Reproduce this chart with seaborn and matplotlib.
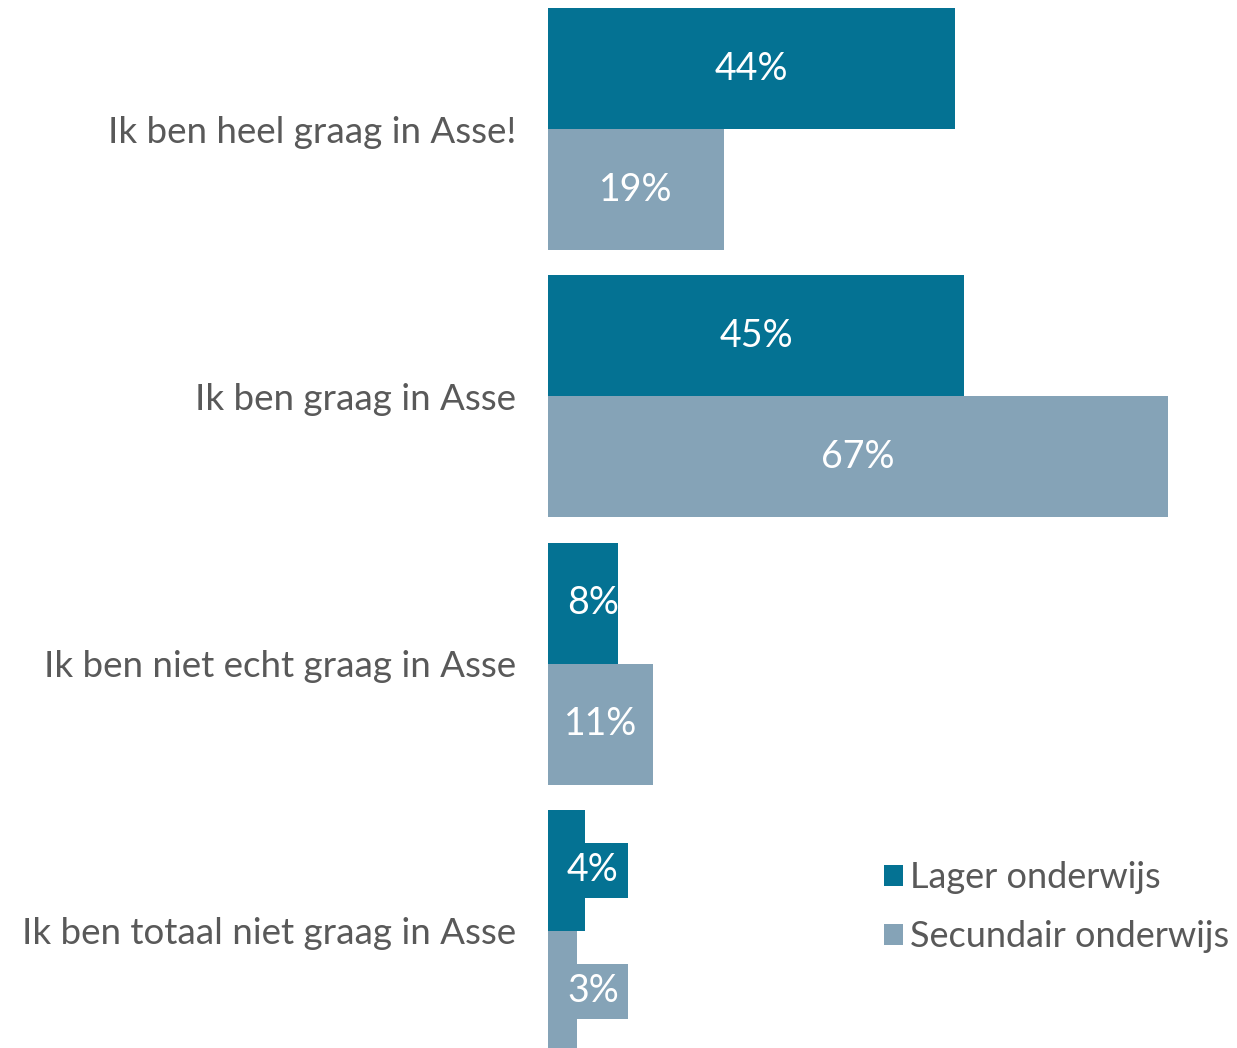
import matplotlib
matplotlib.use("Agg")
import matplotlib.pyplot as plt
import seaborn as sns
import pandas as pd
from matplotlib.patches import Patch

categories = ["Ik ben heel graag in Asse!", "Ik ben graag in Asse",
              "Ik ben niet echt graag in Asse", "Ik ben totaal niet graag in Asse"]
lager = [44, 45, 7.6, 4]
secundair = [19, 67, 11.4, 3.1]
lager_labels = ["44%", "45%", "8%", "4%"]
secundair_labels = ["19%", "67%", "11%", "3%"]
series = ["Lager onderwijs", "Secundair onderwijs"]
colors = ["#047293", "#85A3B7"]

sns.set_theme(style="white")
plt.rcParams['font.family'] = ['Lato', 'DejaVu Sans']

df = pd.DataFrame({
    "cat": categories * 2,
    "val": lager + secundair,
    "serie": [series[0]] * 4 + [series[1]] * 4,
})

fig = plt.figure(figsize=(12.37, 10.48), dpi=100)
ax = fig.add_axes([548 / 1237, 0, 1 - 548 / 1237, 1])
sns.barplot(data=df, y="cat", x="val", hue="serie", order=categories,
            hue_order=series, palette=colors, orient="h", width=0.906,
            saturation=1, ax=ax, legend=False, linewidth=0)

ax.set_xlim(0, 74.5)
ax.set_ylim(3.438, -0.483)
ax.set_xlabel("")
ax.set_ylabel("")
ax.set_xticks([])
for s in ax.spines.values():
    s.set_visible(False)
ax.tick_params(axis="y", length=0, pad=23, labelsize=26.5, labelcolor="#595959")

bw = 0.906 / 2
for i in range(len(categories)):
    for j, (vals, labs) in enumerate([(lager, lager_labels), (secundair, secundair_labels)]):
        v = vals[i]
        y = i - bw / 2 + j * bw
        x = max(v / 2, 4.85)
        kw = {}
        if v < 6:
            kw["bbox"] = dict(boxstyle="square,pad=0.25", fc=colors[j], ec="none")
        ax.text(x, y, labs[i], ha="center", va="center", color="white",
                fontsize=27, **kw)

handles = [Patch(facecolor=c, edgecolor="none", label=s) for c, s in zip(colors, series)]
fig.legend(handles=handles, loc="center left", bbox_to_anchor=(884 / 1237, 1 - 907 / 1048),
           frameon=False, fontsize=26, labelcolor="#595959", handlelength=0.53,
           handleheight=0.53, handletextpad=0.2, labelspacing=0.72,
           borderpad=0, borderaxespad=0)

fig.savefig("out.png", dpi=100)
